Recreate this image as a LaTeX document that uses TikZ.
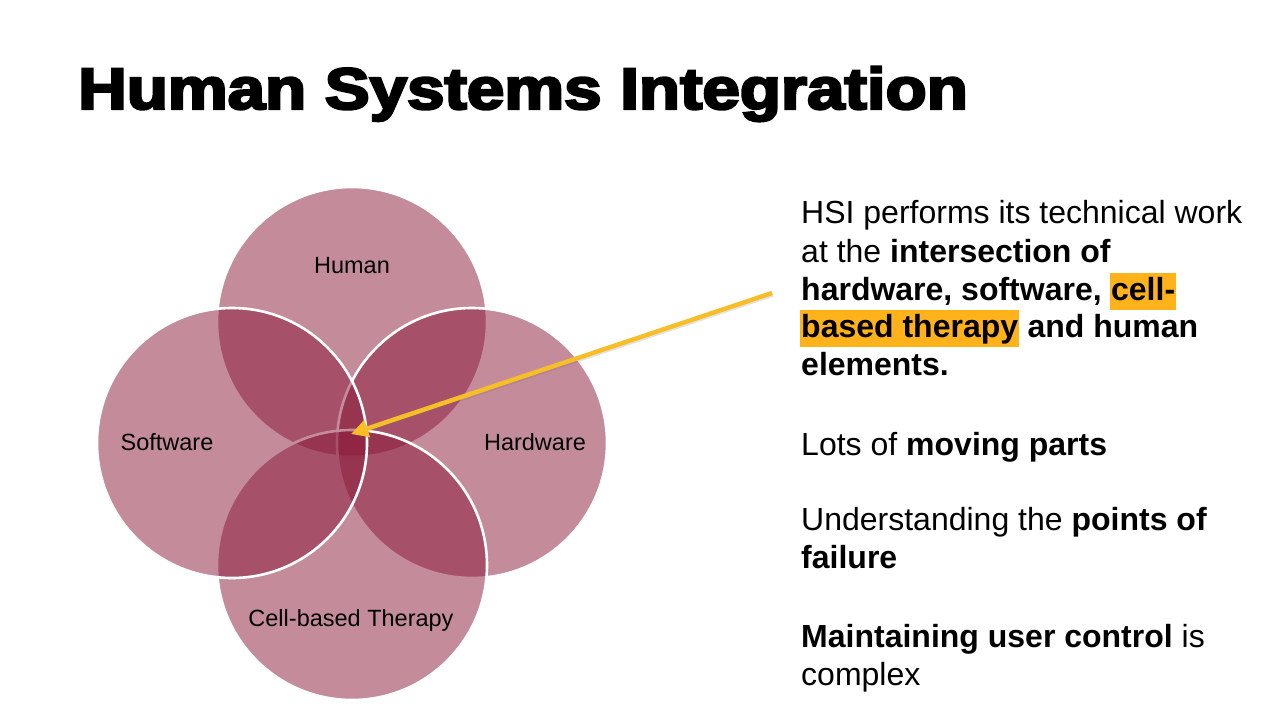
\documentclass[tikz,border=0pt]{standalone}
\usepackage{fontspec}
\setmainfont{Liberation Sans}
\newfontfamily\titlefont{Liberation Sans}[BoldFeatures={FakeBold=4}]
\usetikzlibrary{arrows.meta}
\definecolor{petal}{RGB}{137,24,56}
\definecolor{hl}{RGB}{255,178,26}
\definecolor{arrowc}{RGB}{248,190,40}
\tikzset{
  petal/.style={circle, minimum size=270pt, inner sep=0pt, fill=petal, fill opacity=0.5, draw=white, line width=2.6pt},
  plabel/.style={font=\fontsize{23.5}{28}\selectfont, text=black, inner sep=0pt},
  bodyline/.style={anchor=base west, inner sep=0pt, font=\fontsize{32}{38}\selectfont},
  hlbox/.style={anchor=base west, inner ysep=0pt, inner xsep=1pt, fill=hl, text height=27pt, text depth=9.5pt, font=\fontsize{32}{38}\selectfont\bfseries},
  pointer/.style={draw=arrowc, line width=4.5pt, -{Triangle[length=17pt,width=17pt]}},
}
\begin{document}
\begin{tikzpicture}[x=1pt,y=-1pt]
\useasboundingbox (0,0) rectangle (1280,720);
% title
\node[anchor=base west, inner sep=0pt] (title) at (78,109)
  {\scalebox{1.15}[1]{\titlefont\fontsize{58.5}{60}\selectfont\bfseries Human Systems Integration}};
% circles (drawing order matters for the white outlines)
\node[petal] (human) at (352,322) {};
\node[petal] (hardware) at (472,443) {};
\node[petal] (cell) at (352,565) {};
\node[petal] (software) at (232,443) {};
% labels
\node[plabel] (lhuman) at (352,266) {Human};
\node[plabel] (lsoft) at (167,442) {Software};
\node[plabel] (lhard) at (535,442) {Hardware};
\node[plabel] (lcell) at (351,620) {Cell-based Therapy};
% arrow
\coordinate (src) at (772,293);
\coordinate (tip) at (351,434);
\draw[pointer, draw=black!60, draw opacity=0.18, transform canvas={shift={(1pt,-1.5pt)}}] (src) -- (tip);
\draw[pointer] (src) -- (tip);
% text
\node[bodyline] (t1) at (801,223) {HSI performs its technical work};
\node[bodyline] (t2) at (801,262) {at the \textbf{intersection of}};
\node[bodyline] (t3a) at (801,300) {\textbf{hardware, software,}};
\node[hlbox] (t3b) at ([xshift=8pt]t3a.base east) {cell-};
\node[hlbox] (t4a) at (800,337) {based therapy};
\node[bodyline] (t4b) at ([xshift=8pt]t4a.base east) {\textbf{and human}};
\node[bodyline] (t5) at (801,375) {\textbf{elements.}};
\node[bodyline] (t6) at (801,455) {Lots of \textbf{moving parts}};
\node[bodyline] (t7) at (801,530) {Understanding the \textbf{points of}};
\node[bodyline] (t8) at (801,568) {\textbf{failure}};
\node[bodyline] (t9) at (801,647) {\textbf{Maintaining user control} is};
\node[bodyline] (t10) at (801,685) {complex};
\end{tikzpicture}
\end{document}
